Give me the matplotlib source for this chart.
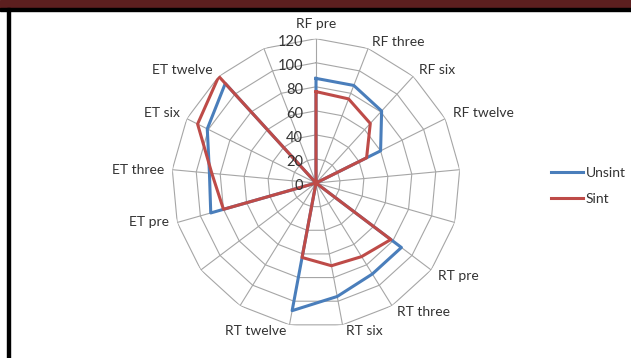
import numpy as np
import matplotlib.pyplot as plt
from matplotlib.patches import Rectangle

plt.rcParams['font.family'] = ['Lato', 'DejaVu Sans']

# spokes of the radar, blank ones separate the RF / RT / ET groups
categories = ["RF pre", "RF three", "RF six", "RF twelve", "", "",
              "RT pre", "RT three", "RT six", "RT twelve", "", "",
              "ET pre", "ET three", "ET six", "ET twelve", ""]
unsint = [87, 87, 81, 60, 0, 0, 89, 89, 96, 108, 0, 0, 91, 89, 101, 112, 0]
sint = [76, 75, 67, 47, 0, 0, 78, 72, 70, 63, 0, 0, 80, 87, 110, 120, 0]
levels = [0, 20, 40, 60, 80, 100, 120]

W, H = 631, 358
fig = plt.figure(figsize=(W / 100, H / 100), dpi=100)

# page decoration: maroon band and black chart border
fig.patches.append(Rectangle((0, 1 - 8 / H), 1, 8 / H, transform=fig.transFigure,
                             color='#5c1f1f', zorder=0))
fig.patches.append(Rectangle((0, 1 - 10.5 / H), 1, 2.5 / H, transform=fig.transFigure,
                             color='black', zorder=0))
fig.patches.append(Rectangle((7 / W, 0), 3 / W, 1 - 8 / H, transform=fig.transFigure,
                             color='black', zorder=0))

cx, cy, R = 316, 175, 144.3
ax = fig.add_axes([(cx - R) / W, (cy - R) / H, 2 * R / W, 2 * R / H], projection='polar')
ax.set_theta_zero_location('N')
ax.set_theta_direction(-1)
ax.set_ylim(0, 120)
ax.grid(False)
ax.set_xticks([])
ax.set_yticks([])
ax.spines['polar'].set_visible(False)
ax.patch.set_alpha(0)

n = len(categories)
theta = np.arange(n) * 2 * np.pi / n
closed = np.append(theta, theta[0])

grid_col = '#a6a6a6'
for lv in levels[1:]:
    ax.plot(closed, [lv] * (n + 1), color=grid_col, lw=0.8, zorder=1)
for t in theta:
    ax.plot([t, t], [0, 120], color=grid_col, lw=0.8, zorder=1)

ax.plot(closed, unsint + unsint[:1], color='#4a7ebb', lw=2.2, label='Unsint', zorder=3)
ax.plot(closed, sint + sint[:1], color='#be4b48', lw=2.2, label='Sint', zorder=3)

# value labels along the top spoke
for lv in levels:
    ax.annotate(str(lv), xy=(0, lv), xytext=(-13, -3), textcoords='offset pixels',
                ha='right', va='center', fontsize=10.5, color='#333333', zorder=4)

# category labels just outside the outer ring
for t, lab in zip(theta, categories):
    if not lab:
        continue
    s, c = np.sin(t), np.cos(t)
    ha = 'left' if s > 0.1 else ('right' if s < -0.1 else 'center')
    va = 'bottom' if c > 0.3 else ('top' if c < -0.3 else 'center')
    gap = 2 + 6 * abs(s)
    dx = gap * np.sign(s) if abs(s) > 0.1 else 0
    dy = 9 if abs(s) <= 0.1 else 0
    ax.annotate(lab, xy=(t, 120), xytext=(dx, dy), textcoords='offset pixels',
                ha=ha, va=va, fontsize=10, color='#333333')

fig.legend(loc='center left', bbox_to_anchor=(551 / W, 1 - 186 / H), frameon=False,
           fontsize=10, handlelength=2.3, handletextpad=0.2, labelspacing=1.0,
           borderpad=0, borderaxespad=0, labelcolor='#333333')

fig.savefig('out.png', dpi=100)
